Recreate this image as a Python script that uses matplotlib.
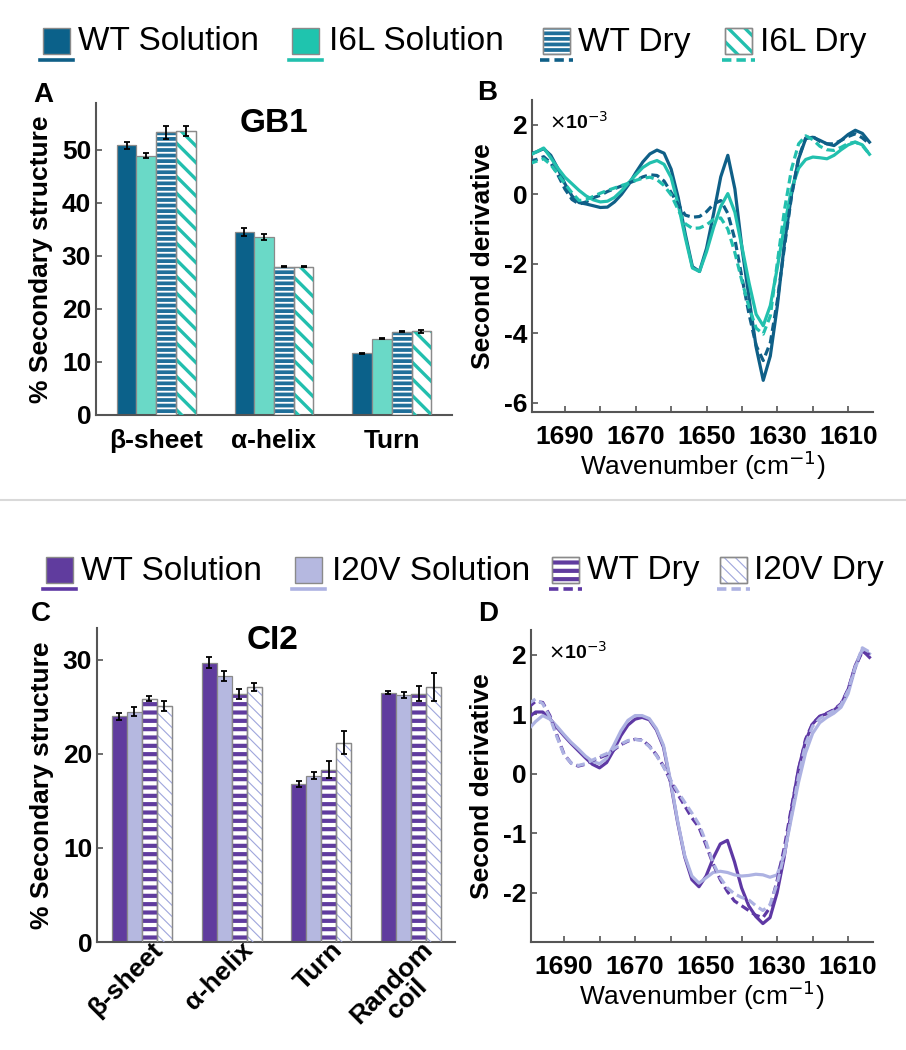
import matplotlib
matplotlib.use("Agg")
import matplotlib.pyplot as plt
from matplotlib.patches import Rectangle
from matplotlib.lines import Line2D
from matplotlib.transforms import ScaledTranslation
import numpy as np

plt.rcParams['font.family'] = ['Liberation Sans', 'DejaVu Sans']
plt.rcParams['hatch.linewidth'] = 2.0

# ---------------- data ----------------
gb1_cats = ['β-sheet', 'α-helix', 'Turn']
gb1_labels = ['WT Solution', 'I6L Solution', 'WT Dry', 'I6L Dry']
gb1_vals = [[50.8, 34.5, 11.6],
            [48.9, 33.5, 14.4],
            [53.3, 27.9, 15.7],
            [53.5, 27.9, 15.8]]
gb1_errs = [[0.6, 0.7, 0.1],
            [0.5, 0.6, 0.1],
            [1.2, 0.1, 0.1],
            [0.9, 0.1, 0.3]]

ci2_cats = ['β-sheet', 'α-helix', 'Turn', 'Random\ncoil']
ci2_labels = ['WT Solution', 'I20V Solution', 'WT Dry', 'I20V Dry']
ci2_vals = [[24.0, 29.7, 16.8, 26.5],
            [24.5, 28.3, 17.7, 26.3],
            [25.9, 26.4, 18.3, 26.4],
            [25.1, 27.1, 21.2, 27.1]]
ci2_errs = [[0.4, 0.6, 0.3, 0.15],
            [0.5, 0.5, 0.4, 0.3],
            [0.3, 0.5, 0.9, 0.8],
            [0.5, 0.4, 1.2, 1.5]]

# wavenumber grid (cm-1), second derivative in units of 1e-3
wn = list(range(1700, 1603, -2))

gb1_wt_sol = [1.15, 1.22, 1.31, 1.12, 0.74, 0.30, -0.05, -0.24, -0.28, -0.33,
              -0.38, -0.37, -0.22, 0.00, 0.28, 0.62, 0.93, 1.16, 1.27, 1.18,
              0.72, -0.10, -1.15, -2.08, -2.22, -1.55, -0.55, 0.50, 1.12, 0.15,
              -1.55, -2.98, -4.40, -5.35, -4.65, -3.20, -1.40, 0.00, 1.02, 1.60,
              1.64, 1.55, 1.45, 1.40, 1.55, 1.72, 1.84, 1.75, 1.50]
gb1_mut_sol = [1.12, 1.22, 1.33, 1.05, 0.75, 0.49, 0.30, 0.11, -0.05, -0.16,
               -0.22, -0.20, -0.09, 0.10, 0.33, 0.56, 0.77, 0.90, 0.97, 0.86,
               0.48, -0.30, -1.25, -2.12, -2.22, -1.65, -0.95, -0.35, 0.02, -0.52,
               -1.52, -2.55, -3.45, -3.78, -3.20, -2.10, -0.90, 0.15, 0.75, 1.00,
               1.07, 1.05, 1.02, 1.12, 1.28, 1.42, 1.50, 1.42, 1.15]
gb1_wt_dry = [0.95, 1.00, 1.08, 0.90, 0.56, 0.15, -0.15, -0.28, -0.22, -0.10,
              -0.03, 0.08, 0.16, 0.24, 0.32, 0.40, 0.50, 0.56, 0.54, 0.38,
              0.05, -0.30, -0.60, -0.66, -0.64, -0.50, -0.28, -0.18, -0.55, -1.30,
              -2.40, -3.45, -4.35, -4.78, -4.27, -3.05, -1.50, -0.05, 1.05, 1.62,
              1.66, 1.52, 1.45, 1.45, 1.55, 1.66, 1.74, 1.62, 1.45]
gb1_mut_dry = [0.88, 0.95, 1.02, 0.85, 0.58, 0.30, 0.04, -0.18, -0.16, -0.06,
               0.03, 0.11, 0.18, 0.25, 0.32, 0.40, 0.46, 0.49, 0.42, 0.25,
               -0.02, -0.45, -0.85, -0.98, -0.97, -0.88, -0.72, -0.68, -1.00, -1.68,
               -2.50, -3.25, -3.85, -4.02, -3.50, -1.95, -0.45, 0.73, 1.45, 1.68,
               1.57, 1.38, 1.28, 1.26, 1.35, 1.46, 1.50, 1.40, 1.15]

ci2_wt_sol = [0.95, 1.04, 1.04, 0.93, 0.78, 0.64, 0.51, 0.39, 0.27, 0.16,
              0.10, 0.19, 0.40, 0.64, 0.82, 0.92, 0.95, 0.91, 0.74, 0.45,
              -0.15, -0.82, -1.40, -1.78, -1.90, -1.72, -1.42, -1.18, -1.12, -1.48,
              -1.92, -2.22, -2.40, -2.52, -2.42, -2.00, -1.40, -0.62, 0.08, 0.55,
              0.84, 0.97, 1.01, 1.07, 1.17, 1.42, 1.82, 2.08, 1.96]
ci2_mut_sol = [0.75, 0.88, 0.98, 0.92, 0.80, 0.66, 0.53, 0.42, 0.30, 0.21,
               0.17, 0.26, 0.48, 0.72, 0.90, 0.98, 0.98, 0.93, 0.76, 0.48,
               -0.12, -0.80, -1.38, -1.72, -1.84, -1.75, -1.66, -1.64, -1.66, -1.70,
               -1.72, -1.71, -1.69, -1.70, -1.74, -1.70, -1.35, -0.75, -0.15, 0.35,
               0.68, 0.86, 0.95, 1.02, 1.12, 1.35, 1.78, 2.10, 2.02]
ci2_wt_dry = [1.12, 1.22, 1.20, 0.98, 0.65, 0.33, 0.18, 0.13, 0.16, 0.22,
              0.27, 0.32, 0.40, 0.49, 0.55, 0.58, 0.57, 0.47, 0.32, 0.13,
              -0.12, -0.34, -0.54, -0.74, -0.90, -1.20, -1.52, -1.78, -1.98, -2.14,
              -2.22, -2.30, -2.38, -2.42, -2.25, -1.80, -1.25, -0.58, 0.05, 0.58,
              0.85, 0.96, 1.02, 1.08, 1.18, 1.42, 1.80, 2.06, 2.00]
ci2_mut_dry = [1.18, 1.26, 1.18, 0.95, 0.62, 0.32, 0.18, 0.14, 0.17, 0.23,
               0.29, 0.34, 0.42, 0.50, 0.56, 0.58, 0.56, 0.46, 0.31, 0.12,
               -0.10, -0.30, -0.48, -0.66, -0.85, -1.15, -1.50, -1.75, -1.92, -2.02,
               -2.08, -2.12, -2.22, -2.30, -2.20, -1.85, -1.35, -0.72, -0.05, 0.50,
               0.80, 0.93, 1.00, 1.06, 1.16, 1.40, 1.80, 2.12, 2.05]

# ---------------- styles ----------------
W, H = 906, 1050
GRAY = '#8a8a8a'
SPINE = '#555555'

gb1_face = ['#0b618a', '#6ad9c7', '#1f6f9a', 'white']
gb1_hcol = [None, None, 'white', '#22bfae']
gb1_hatch = [None, None, '---', '\\\\']
gb1_hlw = [0, 0, 1.3, 2.4]
gb1_line = ['#0f5f87', '#22c0ae', '#0f5f87', '#22c0ae']
gb1_box = ['#0b618a', '#1fc4ae', '#1f6f9a', 'white']

ci2_face = ['#603c9e', '#b5b8e0', 'white', 'white']
ci2_hcol = [None, None, '#603c9e', '#9fa6dc']
ci2_hatch = [None, None, '--', '\\\\\\']
ci2_hlw = [0, 0, 3.0, 0.8]
ci2_line = ['#5e38a4', '#adb2e2', '#5e38a4', '#adb2e2']
ci2_box = ['#603c9e', '#b5b8e0', 'white', 'white']

solid_dash = ['-', '-', (0, (2.6, 1.4)), (0, (2.6, 1.4))]

fig = plt.figure(figsize=(W / 100, H / 100), dpi=100)


def px_axes(l, t, r, b):
    return fig.add_axes([l / W, 1 - b / H, (r - l) / W, (b - t) / H])


def set_hlw(p, lw):
    if hasattr(p, 'set_hatch_linewidth'):
        p.set_hatch_linewidth(lw)


def style_axes(ax):
    for s in ['top', 'right']:
        ax.spines[s].set_visible(False)
    for s in ['left', 'bottom']:
        ax.spines[s].set_color(SPINE)
        ax.spines[s].set_linewidth(1.5)
    ax.tick_params(which='both', direction='in', length=4, width=1.2,
                   color=SPINE, labelsize=19)
    for lab in ax.get_xticklabels() + ax.get_yticklabels():
        lab.set_fontweight('bold')


def draw_bars(ax, cats, vals, errs, faces, hcols, hatches, hlws):
    w = 0.1675
    x = np.arange(len(cats))
    for i in range(4):
        pos = x + (i - 1.5) * w
        ax.bar(pos, vals[i], w, color=faces[i], edgecolor=GRAY, lw=0.9, zorder=2)
        if hatches[i]:
            hb = ax.bar(pos, vals[i], w, color='none', edgecolor=hcols[i],
                        lw=0, hatch=hatches[i], zorder=3)
            for p in hb:
                set_hlw(p, hlws[i])
            ax.bar(pos, vals[i], w, color='none', edgecolor=GRAY, lw=0.9, zorder=4)
        ax.errorbar(pos, vals[i], yerr=errs[i], fmt='none', ecolor='black',
                    elinewidth=1.3, capsize=2.5, capthick=1.3, zorder=5)
    ax.set_xticks(x)


def draw_spectra(ax, series, colors, ylim, yticks):
    for k in range(4):
        ax.plot(wn, series[k], color=colors[k], lw=2.3, linestyle=solid_dash[k],
                zorder=3 + k)
    ax.set_xlim(1699.3, 1603.0)
    ax.set_ylim(*ylim)
    ax.set_xticks([1690, 1670, 1650, 1630, 1610])
    ax.set_xticks([1680, 1660, 1640, 1620], minor=True)
    ax.set_yticks(yticks)
    ax.set_yticklabels([str(t) for t in yticks])
    style_axes(ax)
    ax.tick_params(axis='x', pad=9)
    ax.set_xlabel('Wavenumber (cm$^{-1}$)', fontsize=19, labelpad=0)
    ax.set_ylabel('Second derivative', fontsize=19, fontweight='bold', labelpad=6)
    ax.text(0.05, 0.93, '$\\mathsf{\\times}$10$^{-3}$', transform=ax.transAxes,
            fontsize=14, fontweight='bold', ha='left', va='center')


# ---- panel A ----
axA = px_axes(96, 103, 452, 415)
draw_bars(axA, gb1_cats, gb1_vals, gb1_errs, gb1_face, gb1_hcol, gb1_hatch, gb1_hlw)
axA.set_xlim(-0.51, 2.51)
axA.set_ylim(0, 58.8)
axA.set_yticks([0, 10, 20, 30, 40, 50])
axA.set_xticklabels(gb1_cats)
style_axes(axA)
axA.tick_params(axis='x', length=0, pad=10)
axA.set_ylabel('% Secondary structure', fontsize=19, fontweight='bold', labelpad=6)
axA.text(0.5, 0.935, 'GB1', transform=axA.transAxes, fontsize=24,
         fontweight='bold', ha='center', va='center')

# ---- panel B ----
axB = px_axes(532, 100, 873, 412)
draw_spectra(axB, [gb1_wt_sol, gb1_mut_sol, gb1_wt_dry, gb1_mut_dry], gb1_line,
             (-6.26, 2.71), [-6, -4, -2, 0, 2])

# ---- panel C ----
axC = px_axes(97, 628, 455, 942)
draw_bars(axC, ci2_cats, ci2_vals, ci2_errs, ci2_face, ci2_hcol, ci2_hatch, ci2_hlw)
axC.set_xlim(-0.5, 3.49)
axC.set_ylim(0, 33.4)
axC.set_yticks([0, 10, 20, 30])
axC.set_xticklabels(ci2_cats, rotation=45, ha='right', rotation_mode='anchor',
                    multialignment='center', linespacing=0.95)
style_axes(axC)
axC.tick_params(axis='x', length=0, pad=1)
shift = ScaledTranslation(9 / 100, 6 / 100, fig.dpi_scale_trans)
for lab in axC.get_xticklabels():
    lab.set_transform(lab.get_transform() + shift)
axC.set_ylabel('% Secondary structure', fontsize=19, fontweight='bold', labelpad=6)
axC.text(0.49, 0.96, 'CI2', transform=axC.transAxes, fontsize=24,
         fontweight='bold', ha='center', va='center')

# ---- panel D ----
axD = px_axes(531, 630, 873, 942)
draw_spectra(axD, [ci2_wt_sol, ci2_mut_sol, ci2_wt_dry, ci2_mut_dry], ci2_line,
             (-2.83, 2.42), [-2, -1, 0, 1, 2])

# ---- panel letters ----
for letter, (px, py) in zip('ABCD', [(43, 95), (487, 93), (41, 614), (488, 614)]):
    fig.text(px / W, 1 - py / H, letter, fontsize=20, fontweight='bold',
             ha='center', va='center')

# ---- separator ----
fig.add_artist(Line2D([0.0, 1.0], [1 - 500 / H] * 2, color='#d9d9d9', lw=1.5,
                      transform=fig.transFigure))


# ---- legends ----
def draw_legend(yc, box_x0, text_x0, labels, boxes, hcols, hatches, hlws, lines):
    bw, bh = 27, 26
    for i in range(4):
        x0 = box_x0[i]
        r = Rectangle((x0 / W, 1 - (yc + bh / 2) / H), bw / W, bh / H,
                      facecolor=boxes[i], edgecolor=GRAY, lw=1.0,
                      transform=fig.transFigure)
        fig.add_artist(r)
        if hatches[i]:
            rh = Rectangle((x0 / W, 1 - (yc + bh / 2) / H), bw / W, bh / H,
                           facecolor='none', edgecolor=hcols[i], lw=0,
                           hatch=hatches[i], transform=fig.transFigure)
            set_hlw(rh, hlws[i])
            fig.add_artist(rh)
            fig.add_artist(Rectangle((x0 / W, 1 - (yc + bh / 2) / H), bw / W, bh / H,
                                     facecolor='none', edgecolor=GRAY, lw=1.0,
                                     transform=fig.transFigure))
        ly = 1 - (yc + bh / 2 + 6) / H
        fig.add_artist(Line2D([(x0 - 3) / W, (x0 + bw + 3) / W], [ly, ly],
                              color=lines[i], lw=2.6, linestyle=solid_dash[i],
                              transform=fig.transFigure))
        fig.text(text_x0[i] / W, 1 - (yc + 1) / H, labels[i], fontsize=24,
                 ha='left', va='center')


draw_legend(41, [43, 292, 543, 725], [78, 329, 578, 760], gb1_labels,
            gb1_box, gb1_hcol, gb1_hatch, gb1_hlw, gb1_line)
draw_legend(570, [46, 295, 552, 720], [81, 332, 587, 754], ci2_labels,
            ci2_box, ci2_hcol, ci2_hatch, ci2_hlw, ci2_line)

fig.savefig('out.png', dpi=100)
